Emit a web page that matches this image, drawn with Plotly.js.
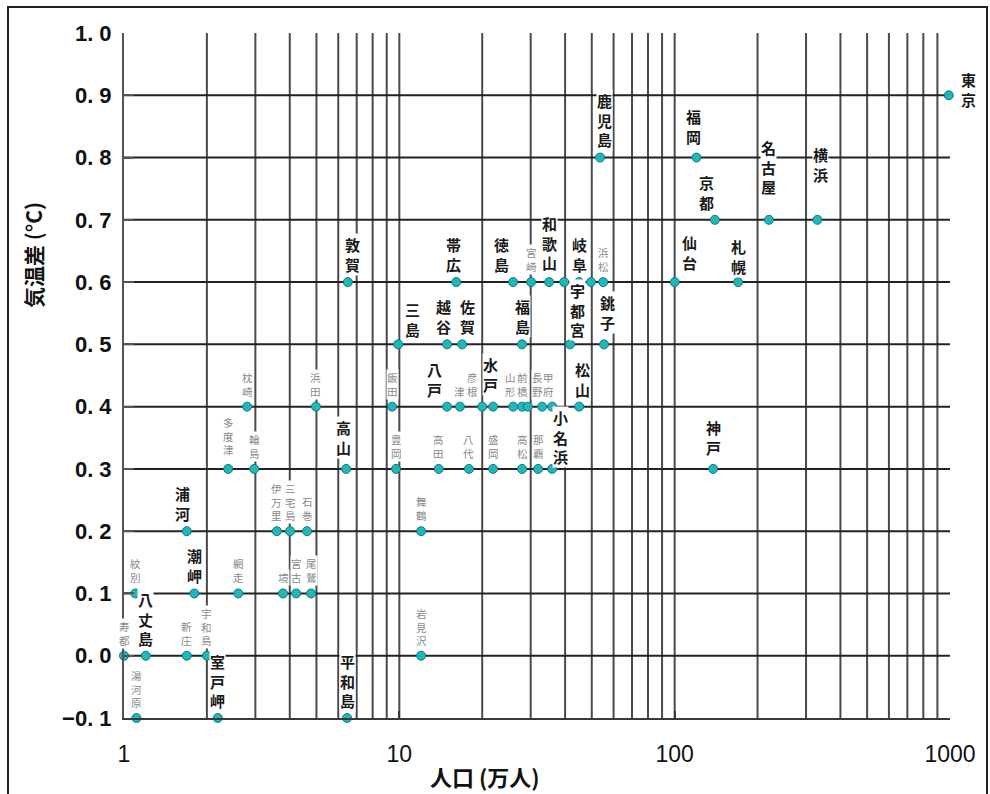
<!DOCTYPE html>
<html><head><meta charset="utf-8">
<script src="https://cdn.plot.ly/plotly-3.0.1.min.js"></script>
<style>body{margin:0;background:#fff}#chart{width:990px;height:794px}</style>
</head><body><div id="chart"></div>
<script>
// ---- data ----
const names = [
  '東京','鹿児島','福岡','京都','名古屋','横浜','仙台','札幌','神戸',
  '敦賀','帯広','徳島','宮崎','和歌山','大分','岐阜','静岡','浜松',
  '三島','越谷','佐賀','福島','宇都宮','銚子',
  '枕崎','浜田','飯田','八戸','津','彦根','水戸','山形','前橋','熊谷','長野','甲府','松山',
  '多度津','輪島','高山','豊岡','高田','八代','盛岡','高松','那覇','小名浜',
  '浦河','伊万里','三宅島','石巻','舞鶴',
  '紋別','潮岬','網走','境','宮古','尾鷲',
  '寿都','八丈島','新庄','宇和島','岩見沢',
  '湯河原','室戸岬','平和島'
];
const population = [
  990, 53.6, 120, 140, 220, 330, 100, 170, 138,
  6.5, 16.1, 25.9, 30.1, 35.0, 39.7, 45.0, 49.7, 55.0,
  9.9, 14.9, 16.9, 27.9, 41.7, 55.4,
  2.80, 4.98, 9.41, 14.9, 16.6, 20.0, 21.9, 25.9, 27.9, 29.3, 33.0, 35.9, 45.0,
  2.39, 2.97, 6.41, 9.73, 13.9, 17.9, 21.9, 27.9, 31.9, 35.9,
  1.69, 3.59, 4.01, 4.62, 12.0,
  1.10, 1.80, 2.60, 3.78, 4.22, 4.78,
  1.00, 1.20, 1.69, 2.00, 12.0,
  1.11, 2.19, 6.46
];
const tempDiff = [
  0.9, 0.8, 0.8, 0.7, 0.7, 0.7, 0.6, 0.6, 0.3,
  0.6, 0.6, 0.6, 0.6, 0.6, 0.6, 0.6, 0.6, 0.6,
  0.5, 0.5, 0.5, 0.5, 0.5, 0.5,
  0.4, 0.4, 0.4, 0.4, 0.4, 0.4, 0.4, 0.4, 0.4, 0.4, 0.4, 0.4, 0.4,
  0.3, 0.3, 0.3, 0.3, 0.3, 0.3, 0.3, 0.3, 0.3, 0.3,
  0.2, 0.2, 0.2, 0.2, 0.2,
  0.1, 0.1, 0.1, 0.1, 0.1, 0.1,
  0.0, 0.0, 0.0, 0.0, 0.0,
  -0.1, -0.1, -0.1
];
// label kind: 'M' = bold city label, 'm' = small grey label, '-' = no label
const labelKind = [
  'M','M','M','M','M','M','M','M','M',
  'M','M','M','m','M','-','M','-','m',
  'M','M','M','M','M','M',
  'm','m','m','M','m','m','M','m','m','-','m','m','M',
  'm','m','M','m','m','m','m','m','m','M',
  'M','m','m','m','m',
  'm','M','m','m','m','m',
  'm','M','m','m','m',
  'm','M','M'
];
const xTickVals = [1, 10, 100, 1000];
const xTickText = ['1', '10', '100', '1000'];
const yTickVals = [-0.1, 0.0, 0.1, 0.2, 0.3, 0.4, 0.5, 0.6, 0.7, 0.8, 0.9, 1.0];
const yTickText = ['\u22120. 1','0. 0','0. 1','0. 2','0. 3','0. 4','0. 5','0. 6','0. 7','0. 8','0. 9','1. 0'];
const yGridVals = [0.0, 0.1, 0.2, 0.3, 0.4, 0.5, 0.6, 0.7, 0.8, 0.9];
const xGridVals = [2,3,4,5,6,7,8,9,10,20,30,40,50,60,70,80,90,100,200,300,400,500,600,700,800,900];

// ---- label placement tweaks (pixels): dx = right, gap = height of label bottom above marker ----
const labelShift = {
  '東京': {dx: 20, gap: 6, anchor: 'middle'},
  '鹿児島': {dx: 4, gap: 7}, '福岡': {dx: -3, gap: 10}, '京都': {dx: -8},
  '名古屋': {gap: 22}, '横浜': {dx: 3, gap: 34},
  '仙台': {dx: 15, gap: 8}, '札幌': {gap: 4}, '神戸': {gap: 10},
  '三島': {dx: 14, gap: 3}, '徳島': {dx: -12}, '八戸': {dx: -13},
  '宇都宮': {dx: 7, gap: 3}, '銚子': {dx: 3, gap: 10}, '小名浜': {dx: 8, gap: 1},
  '和歌山': {gap: 8}, '水戸': {dx: -3, gap: 11}, '高山': {dx: -3, gap: 10},
  '松山': {dx: 3}, '敦賀': {dx: 5}, '越谷': {dx: -4}, '佐賀': {dx: 5},
  '帯広': {dx: -3}, '浦河': {dx: -4},
  '山形': {dx: -3}, '長野': {dx: -5}, '甲府': {dx: -4}, '彦根': {dx: -10},
  '多度津': {gap: 11}
};

const FONT = '"Noto Sans CJK JP", "Noto Sans", sans-serif';
const annotations = [];
names.forEach((n, i) => {
  if (labelKind[i] === '-') return;
  const big = labelKind[i] === 'M';
  const s = labelShift[n] || {};
  annotations.push({
    x: Math.log10(population[i]), y: tempDiff[i], xref: 'x', yref: 'y',
    text: n.split('').join('<br>'),
    showarrow: false,
    xanchor: 'center',
    yanchor: s.anchor || 'bottom',
    xshift: s.dx || 0,
    yshift: s.gap !== undefined ? s.gap : (big ? 6 : 7),
    bgcolor: '#ffffff', borderpad: 0,
    font: big ? {family: FONT, size: 15, color: '#1a1a1a', weight: 700}
              : {family: FONT, size: 10.5, color: '#8a8a8a'}
  });
});

// axis titles
annotations.push({
  xref: 'paper', yref: 'paper', x: (485 - 124) / 826, y: (718 - 776) / 685,
  text: '<b>人口 (万人)</b>', showarrow: false, xanchor: 'center', yanchor: 'middle',
  font: {family: FONT, size: 22, color: '#111'}
});
annotations.push({
  xref: 'paper', yref: 'paper', x: (33 - 124) / 826, y: (718 - 255) / 685,
  text: '<b>気温差 (°C)</b>', showarrow: false, textangle: -90, xanchor: 'center', yanchor: 'middle',
  font: {family: FONT, size: 21, color: '#111'}
});

const shapes = [];
xGridVals.forEach(v => shapes.push({
  type: 'line', layer: 'below', xref: 'paper', yref: 'paper',
  x0: Math.log10(v) / 3, x1: Math.log10(v) / 3, y0: 0, y1: 1,
  line: {color: '#4a4a4a', width: 2}
}));
yGridVals.forEach(v => shapes.push({
  type: 'line', layer: 'below', xref: 'paper', yref: 'y',
  x0: 0, x1: 1, y0: v, y1: v,
  line: {color: '#222', width: 2}
}));
// outer frame of the figure
shapes.push({
  type: 'rect', xref: 'paper', yref: 'paper', layer: 'above',
  x0: (8 - 124) / 826, x1: (987 - 124) / 826, y0: (718 - 820) / 685, y1: (718 - 7) / 685,
  line: {color: '#222', width: 2}
});

const trace = {
  type: 'scatter', mode: 'markers',
  x: population, y: tempDiff, text: names,
  cliponaxis: false,
  marker: {size: 9, color: '#22b6b8', line: {color: '#0b7c82', width: 1}},
  hoverinfo: 'text+x+y'
};

const layout = {
  width: 990, height: 794,
  margin: {l: 124, r: 40, t: 33, b: 76},
  paper_bgcolor: '#fff', plot_bgcolor: '#fff',
  showlegend: false,
  xaxis: {
    type: 'log', range: [0, 3], tickvals: xTickVals, ticktext: xTickText,
    showgrid: false, zeroline: false, showline: true, linecolor: '#3a3a3a', linewidth: 2,
    ticks: 'inside', ticklen: 7, tickcolor: '#3a3a3a', tickwidth: 2,
    ticklabelstandoff: 14,
    tickfont: {family: '"Liberation Sans Narrow", "Liberation Sans", Arial, sans-serif', size: 23, color: '#111'}
  },
  yaxis: {
    range: [-0.1, 1.0], tickvals: yTickVals, ticktext: yTickText,
    showgrid: false, zeroline: false, showline: true, linecolor: '#555', linewidth: 2,
    ticks: 'inside', ticklen: 10, tickcolor: '#555', tickwidth: 2,
    ticklabelstandoff: 6,
    tickfont: {family: '"Liberation Sans", Arial, sans-serif', size: 22, color: '#111', weight: 700}
  },
  shapes: shapes,
  annotations: annotations
};

Plotly.newPlot('chart', [trace], layout, {displayModeBar: false, staticPlot: true});
</script>
</body></html>
